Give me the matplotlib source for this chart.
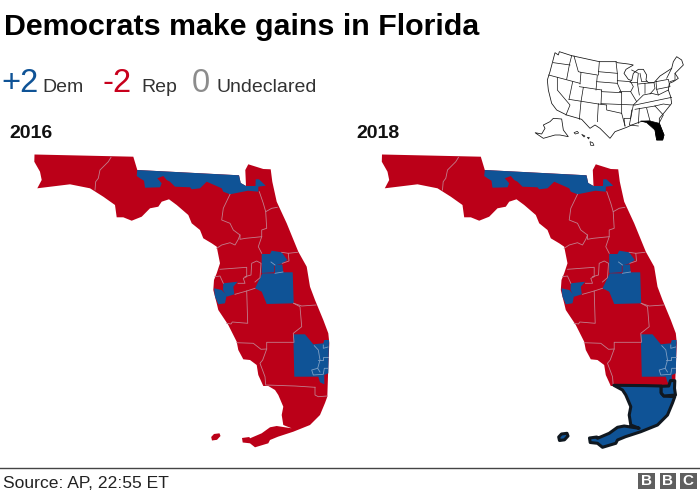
import matplotlib
matplotlib.use("Agg")
import matplotlib.pyplot as plt
import numpy as np
from matplotlib.patches import Polygon, Rectangle

plt.rcParams["font.family"] = ["Liberation Sans", "DejaVu Sans"]

BLUE = "#0f5396"
RED = "#bb0018"
LINE_RED = "#c27f8e"
LINE_BLUE = "#7f9fc4"

# florida traced in picture pixels (2016 panel)
state_outline = [
    (34.5, 154.5), (133.3, 156.7), (137.3, 170), (239, 175.3), (240.7, 183), (246, 186),
    (245.3, 170), (248.3, 164.3), (263.3, 169), (270.7, 169.3), (272.3, 181.7), (276.7, 201.7),
    (286.7, 223.3), (298.3, 251.7), (306.7, 266.7), (310, 286.7), (315, 300), (323.3, 320),
    (328.3, 333.3), (329.3, 343), (328.3, 366.7), (327.3, 396.7), (325, 403), (320, 415),
    (310, 425), (293.3, 431.7), (278, 436.7), (270, 440), (268.3, 443.3), (255, 447.3),
    (250, 443.3), (242.7, 442.5), (242, 438), (249.3, 437), (250, 438.3), (261.7, 433.3),
    (270, 427.3), (276.7, 426), (285, 427.3), (291.7, 428.3), (283.3, 425), (281.7, 415),
    (283.3, 406.7), (278.3, 395), (275, 390), (268.3, 386), (263.3, 386), (258.3, 375),
    (256.7, 365), (250, 360), (243.3, 359.3), (238.3, 350), (236.7, 341.7), (228.3, 325),
    (218.3, 310), (216.7, 303.3), (213.3, 290), (214, 280), (216.7, 273.3), (220, 263.3),
    (216.7, 246.7), (211.7, 243.3), (203.3, 238.3), (200, 230), (191.7, 223.3), (188.3, 215),
    (176.7, 205), (169, 199.3), (161.7, 201.7), (158.3, 206.7), (150, 208.3), (141.7, 216.7),
    (131.7, 220.7), (123.3, 217.3), (116.7, 217.3), (115, 205), (103.3, 196.7), (90, 188.3),
    (70, 184.3), (37.3, 188.3), (41.7, 180), (40, 171.7), (34.3, 161.7),
]
island = [(211.2, 437), (214, 434), (219.5, 433.3), (220.5, 436), (217, 439.8), (212, 440.5)]

dem_north = [
    (137.3, 170), (239, 175.3), (240.7, 183), (246, 186), (255.5, 186), (255.7, 179.3),
    (259, 179.3), (265.7, 185.7), (258.3, 186.7), (258.3, 191.7), (248, 190.7), (230, 194.3),
    (223.3, 191.7), (221.7, 188.3), (206.7, 181.7), (200, 188.3), (191.7, 189.3), (190, 187.3),
    (175, 186.7), (170, 181.7), (166.7, 180), (163.3, 176), (157.3, 178.3), (161.7, 183.3),
    (160, 187.3), (145, 187.7), (144, 180.7), (140, 178.3), (136.7, 176),
]
dem_orlando = [
    (261.7, 254), (270, 254), (271.7, 250.7), (281.7, 252.3), (287.3, 260), (282.3, 263.3),
    (274.3, 265.7), (274.3, 272.3), (261.7, 273),
]
dem_polk = [
    (255, 288.3), (262.3, 273.3), (275, 273.3), (275, 265), (282.3, 264.3), (283.3, 272.3),
    (292.7, 272.3), (293.7, 303.3), (266.7, 304), (261.7, 291.7),
]
dem_tampa = [
    (223.3, 283.3), (237.7, 281.7), (233.3, 286.7), (234.3, 294.3), (226.7, 296.7), (223, 290),
]
dem_pinellas = [
    (214, 288.3), (221.7, 290), (226.7, 295), (225, 303.3), (218.3, 304.3), (215, 296.7),
]
dem_palm = [
    (293.3, 334.3), (305, 334.3), (313.3, 344.3), (323.3, 343.3), (324.3, 340), (329, 340),
    (328.3, 373.3), (324.3, 375), (324.3, 384.3), (320, 382.3), (318.3, 376.7), (294.3, 376.7),
]
dem_2016 = [dem_north, dem_orlando, dem_polk, dem_tampa, dem_pinellas, dem_palm]

south_district = [
    (266.3, 385.3), (298, 385.6), (313.7, 386), (313.7, 393), (316.3, 396), (327.3, 396.7),
    (325, 403), (320, 415), (310, 425), (293.3, 431.7), (278, 436.7), (270, 440), (268.3, 443.3),
    (255, 447.3), (250, 443.3), (242.7, 442.5), (242, 438), (249.3, 437), (250, 438.3),
    (261.7, 433.3), (270, 427.3), (276.7, 426), (285, 427.3), (291.7, 428.3), (283.3, 425),
    (281.7, 415), (283.3, 406.7), (278.3, 395), (275, 390),
]
miami_box = [
    (313.7, 386.3), (321.3, 386), (323, 380.5), (327.3, 380.7), (327, 388.3), (328, 395),
    (316.3, 396), (313.7, 393),
]

red_lines = [
    [(111, 157.3), (108.3, 161.7), (100, 170), (98.3, 178.3), (95.7, 181.7), (95, 190)],
    [(230, 194.3), (223.3, 208.3), (221.7, 220), (230, 223.3), (233.3, 230), (240, 235),
     (238.3, 239.3), (235, 245), (230, 242.7), (221.7, 245), (216.7, 248.3)],
    [(259.3, 191.7), (263.3, 203.3), (265.7, 211.7), (271.7, 208.3), (277.3, 207.3)],
    [(265.7, 211.7), (266.7, 228.3), (261.7, 230), (261.7, 236.7), (258.3, 246.7), (261.7, 253.3)],
    [(240, 235), (240, 239.3), (245.7, 238.3), (261.7, 236.7)],
    [(288.3, 253.3), (297.5, 252.3)],
    [(281.7, 252.3), (288.3, 253.3), (289, 261), (282.3, 263.3)],
    [(220, 269.3), (246.7, 267.3), (246.7, 276.7), (243.3, 278.3), (245, 283.3), (238, 283.3)],
    [(245, 276.7), (251, 275), (251.7, 263.3), (256.7, 261), (261, 263.3), (260, 277.7), (255, 282)],
    [(235, 294.3), (246.7, 291), (255, 288.3)],
    [(215, 276.7), (220, 276), (223.3, 283.3)],
    [(246.7, 291), (247.7, 323.3), (232.3, 322), (231, 324), (226.7, 323.3)],
    [(293.7, 303.3), (300, 306.7), (301.7, 326.7), (293.3, 333.3), (294, 342.3), (266.7, 342.3),
     (266.7, 349), (262.7, 360), (260, 363.3), (265, 376.7), (265.7, 385), (295, 386),
     (315, 387.3)],
    [(266.7, 349), (261, 349.3), (253.3, 343.3), (236.7, 342.7)],
    [(293.7, 303.3), (301.7, 306), (316, 305)],
    [(315, 387.3), (315, 395), (318.3, 396.7), (327.3, 396)],
]
blue_lines = [
    [(314.3, 345.7), (318.3, 350), (320, 360), (317.7, 368.3), (311.7, 370), (313.3, 375),
     (323.3, 374.3), (324.3, 368.3), (328, 368.3)],
    [(318.3, 360), (323.3, 360), (323.3, 356.7), (328, 356.7)],
    [(323.3, 345), (323.3, 348.3), (328, 347)],
    [(317.7, 368.3), (320, 372)],
    [(271, 262), (275, 265)],
    [(275, 273.3), (283, 272)],
]

# usa inset, traced in a crop of its own
us_outline = [
    (165, 38), (175, 45), (178, 35), (215, 47), (298, 65), (348, 65), (352, 68), (385, 72), (400, 75),
    (378, 88), (372, 100), (385, 118), (395, 122), (400, 100), (415, 88), (430, 88), (440, 105),
    (438, 120), (445, 128), (462, 128), (480, 108), (500, 95), (515, 85), (520, 65), (530, 50),
    (545, 60), (550, 75), (535, 90), (525, 100), (535, 115), (520, 125), (508, 130), (505, 150),
    (512, 170), (515, 190), (495, 215), (478, 235), (478, 250), (492, 285), (488, 300), (470, 300),
    (465, 270), (450, 243), (422, 245), (395, 255), (380, 262), (345, 275), (330, 295), (300, 265),
    (285, 255), (270, 265), (245, 238), (200, 225), (170, 210), (155, 190), (145, 150), (142, 120),
    (150, 95),
]
us_lines = [
    [(160, 68), (210, 75)], [(215, 47), (208, 75), (200, 118)], [(146, 105), (240, 130)],
    [(172, 112), (172, 150), (210, 195), (198, 225)], [(218, 125), (207, 178)],
    [(222, 48), (235, 95), (243, 97), (240, 132)], [(243, 97), (292, 105), (288, 150)],
    [(238, 140), (305, 150)], [(298, 65), (295, 105)], [(250, 142), (243, 185), (238, 238)],
    [(207, 178), (295, 192)], [(305, 150), (303, 192)], [(295, 192), (292, 245)],
    [(295, 192), (320, 195), (320, 210), (365, 220), (375, 258)], [(295, 95), (352, 100)],
    [(290, 125), (352, 130)], [(348, 65), (352, 100), (352, 130), (365, 160), (365, 220)],
    [(305, 155), (365, 158)], [(303, 191), (405, 195)], [(352, 122), (392, 125)],
    [(358, 155), (392, 155), (410, 185), (400, 195), (392, 235), (372, 235), (375, 258)],
    [(392, 125), (400, 140), (392, 155)], [(392, 235), (395, 210)],
    [(392, 235), (388, 255), (415, 258)], [(405, 208), (465, 198)],
    [(418, 205), (415, 250)], [(440, 205), (450, 243)],
    [(465, 198), (490, 225), (478, 248)], [(465, 198), (490, 192), (510, 195)],
    [(405, 195), (515, 172)], [(410, 185), (430, 165), (455, 160), (475, 165), (505, 150)],
    [(390, 128), (412, 128), (418, 165)], [(415, 132), (435, 130), (435, 160)],
    [(435, 130), (462, 128), (465, 145), (450, 162)], [(412, 128), (415, 100), (395, 90)],
    [(468, 125), (505, 118), (510, 140), (470, 148), (468, 125)],
    [(470, 148), (475, 165)], [(500, 115), (515, 85)], [(510, 125), (525, 120), (525, 100)],
    [(420, 100), (425, 125), (440, 125)],
]
florida_inset = [
    (422, 243), (450, 243), (478, 250), (492, 285), (488, 300), (470, 300), (465, 270), (440, 248),
]
alaska = [
    (160, 235), (185, 237), (190, 270), (205, 290), (180, 285), (165, 285), (130, 295), (105, 278),
    (125, 282), (135, 265), (130, 255), (150, 245),
]
hawaii = [
    [(222, 278), (232, 274), (236, 279), (226, 282)],
    [(245, 283), (255, 288), (252, 291)],
    [(262, 292), (268, 292), (266, 297)],
    [(270, 305), (278, 308), (282, 316), (272, 316)],
]

title_text = "Democrats make gains in Florida"
legend_numbers = ["+2", "-2", "0"]
legend_labels = ["Dem", "Rep", "Undeclared"]
legend_colors = [BLUE, "#c8001c", "#8c8c8c"]
years = ["2016", "2018"]
source_text = "Source: AP, 22:55 ET"
bbc_letters = ["B", "B", "C"]


def shifted(points, dx):
    return np.array(points) + [dx, 0]


def draw_florida(ax, dx, dem_shapes):
    ax.add_patch(Polygon(shifted(state_outline, dx), fc=RED, ec="none", zorder=1))
    ax.add_patch(Polygon(shifted(island, dx), fc=RED, ec="none", zorder=1))
    for shape in dem_shapes:
        ax.add_patch(Polygon(shifted(shape, dx), fc=BLUE, ec="none", zorder=2))
    for line in red_lines:
        pts = shifted(line, dx)
        ax.plot(pts[:, 0], pts[:, 1], color=LINE_RED, lw=0.6, zorder=3)
    for line in blue_lines:
        pts = shifted(line, dx)
        ax.plot(pts[:, 0], pts[:, 1], color=LINE_BLUE, lw=0.6, zorder=3)


fig = plt.figure(figsize=(7, 4.92), dpi=100)
ax = fig.add_axes([0, 0, 1, 1])
ax.set_xlim(0, 700)
ax.set_ylim(492, 0)
ax.axis("off")

draw_florida(ax, 0, dem_2016)
draw_florida(ax, 347.5, dem_2016)

# the seat that flipped gets a heavy outline
for shape in [south_district, miami_box, island]:
    ax.add_patch(Polygon(shifted(shape, 347.5), fc=BLUE, ec="#101820", lw=2.2, joinstyle="round", zorder=5))

ax.text(4, 35, title_text, fontsize=21.9, fontweight="bold", color="#000000")

for x_num, x_lab, num, lab, col in zip([1, 103, 192], [42, 141, 216], legend_numbers, legend_labels, legend_colors):
    ax.text(x_num, 92, num, fontsize=23.5, color=col)
    ax.text(x_lab, 92, lab, fontsize=14, color="#333333")

for x, year in zip([9, 356], years):
    ax.text(x, 138, year, fontsize=14, fontweight="bold", color="#111111")

# footer
ax.plot([0, 700], [467.5, 467.5], color="#444444", lw=1)
ax.text(3, 488, source_text, fontsize=12.6, color="#222222")
for x, letter in zip([638, 659.5, 680], bbc_letters):
    ax.add_patch(Rectangle((x, 473), 16.5, 16, fc="#5f5f5f", ec="none"))
    ax.text(x + 8.25, 481.3, letter, fontsize=11, fontweight="bold", color="white", ha="center", va="center")

# locator inset
inset = fig.add_axes([500 / 700, 1 - 150 / 492, 190 / 700, 110 / 492])
inset.set_xlim(0, 570)
inset.set_ylim(330, 0)
inset.axis("off")
inset.add_patch(Polygon(us_outline, fc="white", ec="#111111", lw=0.55))
for line in us_lines:
    pts = np.array(line)
    inset.plot(pts[:, 0], pts[:, 1], color="#111111", lw=0.5)
inset.add_patch(Polygon(florida_inset, fc="black", ec="black", lw=0.5))
inset.add_patch(Polygon(alaska, fc="white", ec="#111111", lw=0.55))
for blob in hawaii:
    inset.add_patch(Polygon(blob, fc="white", ec="#111111", lw=0.5))

fig.savefig("out.png", dpi=100)
